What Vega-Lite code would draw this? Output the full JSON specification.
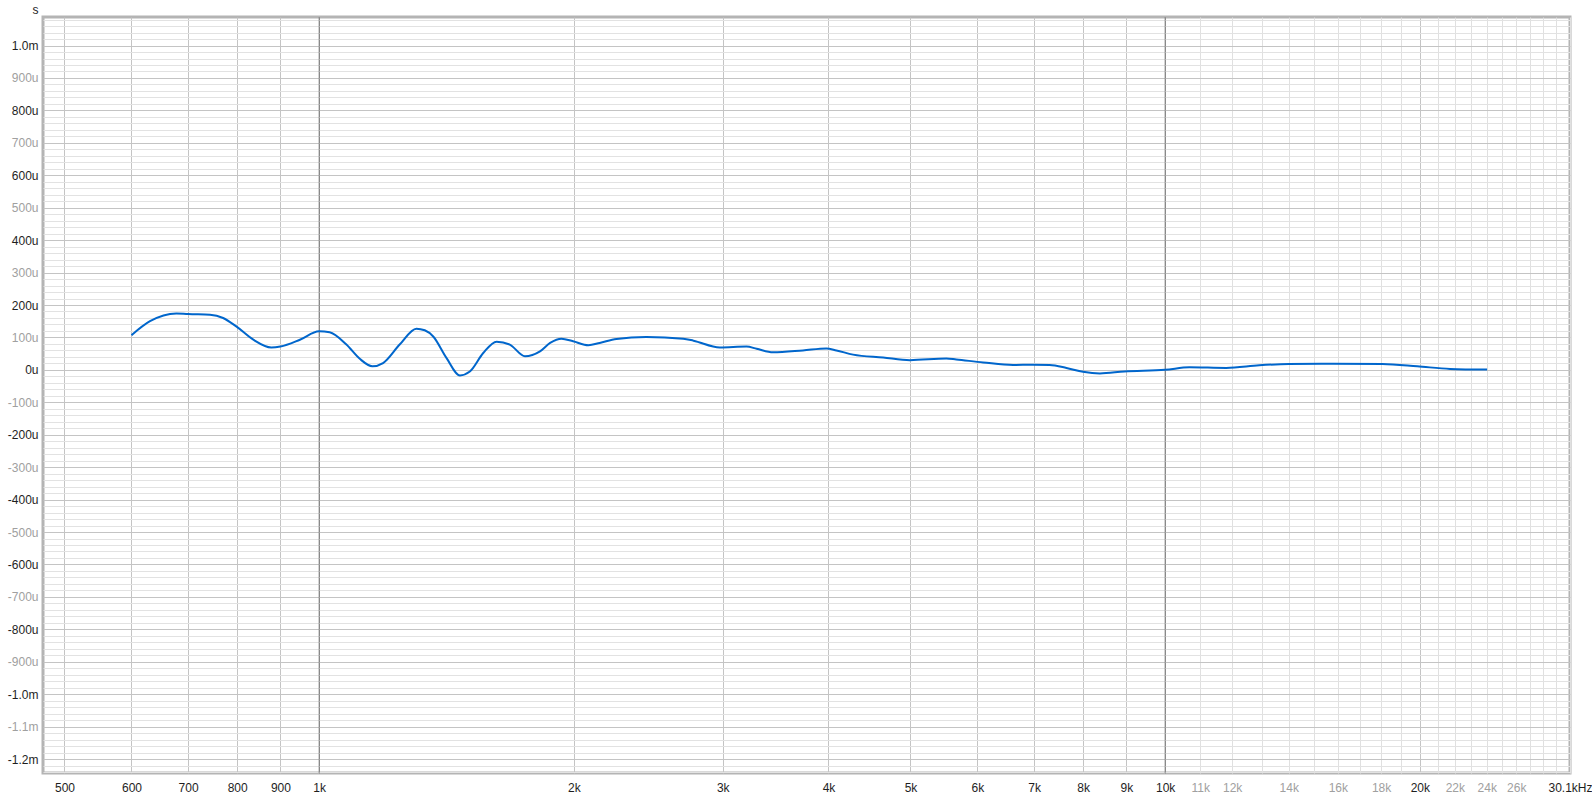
{
  "$schema": "https://vega.github.io/schema/vega-lite/v6.json",
  "width": 1527,
  "height": 756,
  "autosize": "none",
  "padding": {"left": 43, "top": 17, "right": 22, "bottom": 26},
  "background": "#ffffff",
  "config": {
    "font": "Liberation Sans",
    "view": {"stroke": "#b4b4b4", "strokeWidth": 3}
  },
  "datasets": {
    "curve": [
      {"f": 600, "gd": 107}, {"f": 631, "gd": 150}, {"f": 678, "gd": 174}, {"f": 700, "gd": 172},
      {"f": 743, "gd": 170}, {"f": 770, "gd": 160}, {"f": 798, "gd": 134}, {"f": 836, "gd": 93},
      {"f": 878, "gd": 69}, {"f": 900, "gd": 72}, {"f": 949, "gd": 93}, {"f": 1000, "gd": 119},
      {"f": 1029, "gd": 116}, {"f": 1077, "gd": 78}, {"f": 1117, "gd": 34}, {"f": 1156, "gd": 11},
      {"f": 1190, "gd": 21}, {"f": 1245, "gd": 78}, {"f": 1303, "gd": 127}, {"f": 1333, "gd": 122},
      {"f": 1364, "gd": 103}, {"f": 1414, "gd": 37}, {"f": 1467, "gd": -17}, {"f": 1507, "gd": -5},
      {"f": 1563, "gd": 52}, {"f": 1621, "gd": 87}, {"f": 1680, "gd": 78}, {"f": 1751, "gd": 42},
      {"f": 1824, "gd": 57}, {"f": 1875, "gd": 83}, {"f": 1934, "gd": 96}, {"f": 1996, "gd": 88},
      {"f": 2081, "gd": 76}, {"f": 2146, "gd": 83}, {"f": 2246, "gd": 95}, {"f": 2436, "gd": 101},
      {"f": 2694, "gd": 96}, {"f": 2770, "gd": 90}, {"f": 2976, "gd": 69}, {"f": 3200, "gd": 72},
      {"f": 3290, "gd": 65}, {"f": 3440, "gd": 54}, {"f": 3731, "gd": 60}, {"f": 3977, "gd": 66},
      {"f": 4087, "gd": 60}, {"f": 4277, "gd": 47}, {"f": 4642, "gd": 38}, {"f": 4993, "gd": 30},
      {"f": 5513, "gd": 35}, {"f": 5664, "gd": 32}, {"f": 6093, "gd": 23}, {"f": 6610, "gd": 15},
      {"f": 6975, "gd": 16}, {"f": 7303, "gd": 15}, {"f": 7645, "gd": 6}, {"f": 7997, "gd": -6},
      {"f": 8373, "gd": -11}, {"f": 8948, "gd": -5}, {"f": 10000, "gd": 0}, {"f": 10681, "gd": 8},
      {"f": 11806, "gd": 6}, {"f": 12920, "gd": 14}, {"f": 14000, "gd": 18}, {"f": 15790, "gd": 19},
      {"f": 18070, "gd": 18}, {"f": 19860, "gd": 11}, {"f": 21720, "gd": 3}, {"f": 24020, "gd": 1}
    ],
    "decades": [{"f": 1000}, {"f": 10000}]
  },
  "layer": [
    {
      "data": {"name": "decades"},
      "mark": {"type": "rule", "color": "#8a8a8a", "strokeWidth": 1},
      "encoding": {
        "x": {"field": "f", "type": "quantitative"}
      }
    },
    {
      "data": {"name": "curve"},
      "mark": {"type": "line", "color": "#0066cc", "strokeWidth": 2, "interpolate": "monotone", "clip": true},
      "encoding": {
        "x": {
          "field": "f",
          "type": "quantitative",
          "scale": {"type": "log", "domain": [471.6, 30100], "nice": false},
          "axis": {
            "title": null,
            "values": [500, 600, 700, 800, 900, 1000, 2000, 3000, 4000, 5000, 6000, 7000, 8000, 9000, 10000, 11000, 12000, 13000, 14000, 15000, 16000, 17000, 18000, 19000, 20000, 21000, 22000, 23000, 24000, 25000, 26000, 27000, 28000, 29000, 30100],
            "labelExpr": "datum.value == 30100 ? '30.1kHz' : (indexof([13000,15000,17000,19000,21000,23000,25000,27000,28000,29000], datum.value) >= 0 ? '' : (datum.value >= 1000 ? (datum.value / 1000) + 'k' : datum.value + ''))",
            "labelOverlap": false,
            "labelFontSize": 12,
            "labelPadding": 9,
            "labelFlush": false,
            "ticks": false,
            "tickSize": 0,
            "domain": false,
            "grid": true,
            "gridWidth": 1,
            "gridColor": {
              "condition": [
                {"test": "datum.value == 1000 || datum.value == 10000", "value": "#8a8a8a"},
                {"test": "datum.value > 10000 && datum.value != 20000", "value": "#e0e0e0"}
              ],
              "value": "#c4c4c4"
            },
            "labelColor": {
              "condition": {"test": "datum.value > 10000 && datum.value != 20000 && datum.value != 30100", "value": "#a0a0a0"},
              "value": "#1e1e1e"
            }
          }
        },
        "y": {
          "field": "gd",
          "type": "quantitative",
          "scale": {"domain": [-1243, 1088], "nice": false, "zero": false},
          "axis": {
            "title": "s",
            "titleAngle": 0,
            "titleAlign": "center",
            "titleBaseline": "alphabetic",
            "titleX": -8,
            "titleY": -4,
            "titleFontWeight": "normal",
            "titleFontSize": 12,
            "titleColor": "#1e1e1e",
            "values": [-1240, -1220, -1200, -1180, -1160, -1140, -1120, -1100, -1080, -1060, -1040, -1020, -1000, -980, -960, -940, -920, -900, -880, -860, -840, -820, -800, -780, -760, -740, -720, -700, -680, -660, -640, -620, -600, -580, -560, -540, -520, -500, -480, -460, -440, -420, -400, -380, -360, -340, -320, -300, -280, -260, -240, -220, -200, -180, -160, -140, -120, -100, -80, -60, -40, -20, 0, 20, 40, 60, 80, 100, 120, 140, 160, 180, 200, 220, 240, 260, 280, 300, 320, 340, 360, 380, 400, 420, 440, 460, 480, 500, 520, 540, 560, 580, 600, 620, 640, 660, 680, 700, 720, 740, 760, 780, 800, 820, 840, 860, 880, 900, 920, 940, 960, 980, 1000, 1020, 1040, 1060, 1080],
            "labelExpr": "datum.value % 100 != 0 ? '' : (abs(datum.value) >= 1000 ? (datum.value < 0 ? '-' : '') + format(abs(datum.value) / 1000, '.1f') + 'm' : datum.value + 'u')",
            "labelOverlap": false,
            "labelFontSize": 12,
            "labelPadding": 5,
            "labelFlush": false,
            "ticks": false,
            "tickSize": 0,
            "domain": false,
            "grid": true,
            "gridWidth": 1,
            "gridColor": {
              "condition": {"test": "datum.value % 100 == 0", "value": "#c4c4c4"},
              "value": "#e2e2e2"
            },
            "labelColor": {
              "condition": {"test": "datum.value % 200 == 0", "value": "#1e1e1e"},
              "value": "#a0a0a0"
            }
          }
        }
      }
    }
  ]
}
